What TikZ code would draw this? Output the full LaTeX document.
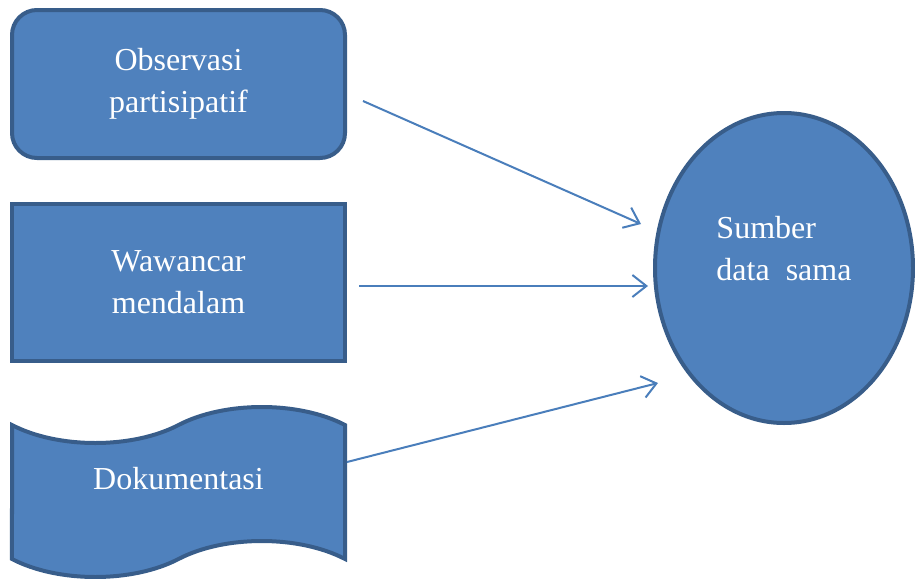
\documentclass[tikz,border=0pt]{standalone}
\usepackage{fontspec}
\setmainfont{Liberation Serif}
\usetikzlibrary{positioning, arrows.meta, shapes.geometric, shapes.symbols}
\definecolor{boxfill}{HTML}{4F81BD}
\definecolor{boxline}{HTML}{385D8A}
\definecolor{arrline}{HTML}{4A7EBB}
\tikzset{
    x=0.5pt, y=-0.5pt,
    every box/.style={draw=boxline, fill=boxfill, line width=2pt, text=white,
        font=\fontsize{16}{21}\selectfont, align=center, inner sep=0pt},
    conn/.style={draw=arrline, line width=1pt, -{Straight Barb[length=7pt, width=11pt]}}
}

\begin{document}
\begin{tikzpicture}
    % canvas
    \useasboundingbox (0,0) rectangle (915,578);
        \node[every box, rounded corners=12.5pt, minimum width=166.5pt, minimum height=74pt] (obs) at (178.5,84) {Observasi\\partisipatif};
        \node[every box, minimum width=166.5pt, minimum height=78.5pt] (waw) at (178.5,282.5) {Wawancar\\mendalam};
        \node[every box, tape, tape bend top=in and out, tape bend bottom=in and out, tape bend height=18pt,
            minimum width=166.5pt, minimum height=85pt, text depth=14pt] (dok) at (178.5,492) {Dokumentasi};
        \node[every box, ellipse, minimum width=129pt, minimum height=155pt] (sumber) at (784,268) {};
        \node[text=white, font=\fontsize{16}{21}\selectfont, align=left] (lbl) at ([yshift=9.5pt]sumber.center) {Sumber\\data\ \ sama};
        \draw[conn] ([xshift=8pt,yshift=-8.5pt]obs.east) -- ([xshift=-6pt,yshift=22pt]sumber.west);
        \draw[conn] ([xshift=6pt,yshift=-1.75pt]waw.east) -- ([xshift=-2.5pt,yshift=-9pt]sumber.west);
        \draw[conn] ([yshift=15pt]dok.east) -- ([xshift=2.5pt,yshift=-57.5pt]sumber.west);
\end{tikzpicture}
\end{document}
